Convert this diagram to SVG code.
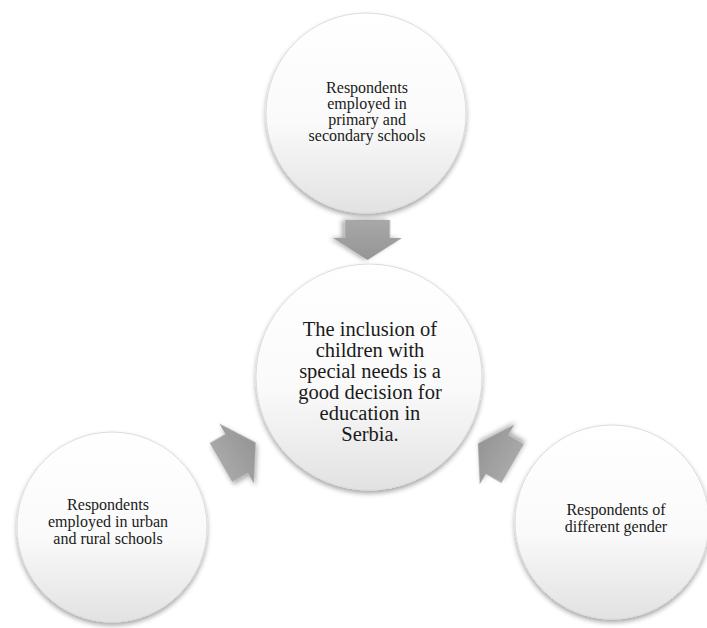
<svg xmlns="http://www.w3.org/2000/svg" width="707" height="628" viewBox="0 0 707 628">
<defs>
<linearGradient id="cg" x1="0" y1="0" x2="0" y2="1">
<stop offset="0" stop-color="#ffffff"/>
<stop offset="0.55" stop-color="#fafafa"/>
<stop offset="1" stop-color="#e2e2e2"/>
</linearGradient>
<linearGradient id="ag" x1="0" y1="0" x2="1" y2="0">
<stop offset="0" stop-color="#a8a8a8"/>
<stop offset="1" stop-color="#959595"/>
</linearGradient>
<filter id="sh" x="-20%" y="-20%" width="140%" height="140%">
<feGaussianBlur in="SourceAlpha" stdDeviation="2.5"/>
<feOffset dx="0" dy="2.5" result="b"/>
<feComponentTransfer><feFuncA type="linear" slope="0.35"/></feComponentTransfer>
<feMerge><feMergeNode/><feMergeNode in="SourceGraphic"/></feMerge>
</filter>
<polygon id="arr" points="0,-22.5 18,-22.5 18,-34.5 40,0 18,34.5 18,22.5 0,22.5"/>
</defs>
<style>
.c{fill:url(#cg);stroke:#dcdcdc;stroke-width:1;filter:url(#sh)}
.a{fill:url(#ag);filter:url(#sh)}
text{font-family:"Liberation Serif","Times New Roman",serif;fill:#1a1a1a;text-anchor:middle}
.s{font-size:16px}
.m{font-size:20.5px}
</style>
<rect width="707" height="628" fill="#ffffff"/>
<g id="connectors">
<use href="#arr" class="a" transform="translate(367.5,220) rotate(90)"/>
<use href="#arr" class="a" transform="translate(221,462.5) rotate(-30)"/>
<use href="#arr" class="a" transform="translate(512.6,463.5) rotate(210)"/>
</g>
<g id="top">
<circle class="c" cx="366" cy="113" r="100"/>
<text class="s"><tspan x="367" y="93">Respondents</tspan><tspan x="367" y="109">employed in</tspan><tspan x="367" y="125">primary and</tspan><tspan x="367" y="141">secondary schools</tspan></text>
</g>
<g id="center">
<circle class="c" cx="369" cy="377" r="113"/>
<text class="m"><tspan x="370" y="336">The inclusion of</tspan><tspan x="370" y="357">children with</tspan><tspan x="370" y="378">special needs is a</tspan><tspan x="370" y="399">good decision for</tspan><tspan x="370" y="420">education in</tspan><tspan x="370" y="441">Serbia.</tspan></text>
</g>
<g id="left">
<circle class="c" cx="112" cy="527" r="95"/>
<text class="s"><tspan x="108" y="510">Respondents</tspan><tspan x="108" y="527">employed in urban</tspan><tspan x="108" y="544">and rural schools</tspan></text>
</g>
<g id="right">
<circle class="c" cx="612" cy="522" r="97"/>
<text class="s"><tspan x="616" y="515">Respondents of</tspan><tspan x="616" y="532">different gender</tspan></text>
</g>
</svg>
